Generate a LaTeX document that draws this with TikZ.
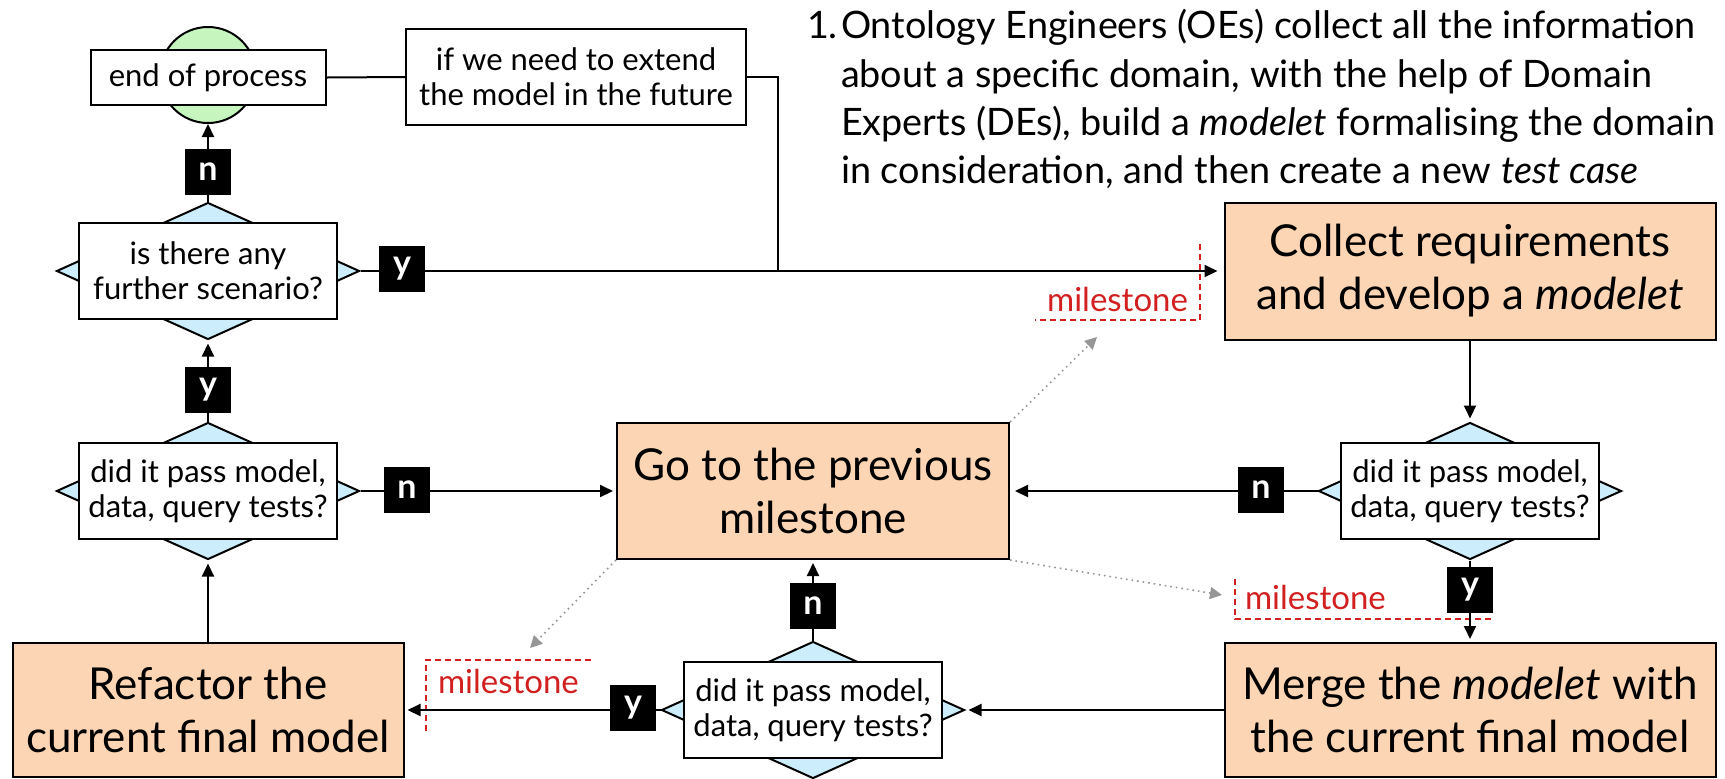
\documentclass[tikz,border=0pt]{standalone}
\usepackage{fontspec}
\setmainfont{Lato}
\usetikzlibrary{shapes.geometric,arrows.meta}
\definecolor{peach}{RGB}{252,213,180}
\definecolor{lblue}{RGB}{204,238,252}
\definecolor{lgreen}{RGB}{198,246,190}
\definecolor{msred}{RGB}{210,32,32}
\definecolor{dotgray}{RGB}{150,150,150}
\newcommand{\fBig}{\fontsize{22}{26.5}\selectfont}
\newcommand{\fSmall}{\fontsize{15.5}{17.5}\selectfont}
\newcommand{\fPara}{\fontsize{18.9}{24}\selectfont}
\newcommand{\fLab}{\fontsize{17}{17}\selectfont}
\newcommand{\fMs}{\fontsize{16.5}{18}\selectfont}
\begin{document}
\begin{tikzpicture}[x=0.5pt,y=-0.5pt,line width=1pt,
  bigbox/.style={draw, fill=peach, align=center, font=\fBig, inner sep=0pt},
  qbox/.style={draw, fill=white, align=center, font=\fSmall, minimum width=129pt, minimum height=48pt, inner sep=0pt},
  dia/.style={diamond, draw, fill=lblue, minimum width=151.5pt, minimum height=68.5pt, inner sep=0pt},
  lab/.style={fill=black, text=white, font=\fLab\bfseries, minimum size=23pt, inner sep=0pt},
  arr/.style={-{Triangle[length=6.5pt,width=6pt]}, shorten >=1.5pt},
  dotarr/.style={draw=dotgray, dotted, line width=0.8pt, -{Triangle[length=6pt,width=6pt]}},
  msline/.style={draw=msred, line width=0.8pt, dash pattern=on 3pt off 2pt},
  mstext/.style={text=msred, font=\fMs, inner sep=0pt},
  para/.style={anchor=base west, font=\fPara, inner sep=0pt},
  blank/.style={inner sep=0pt, outer sep=0pt}]
\useasboundingbox (0,0) rectangle (1725,778);
\clip (0,0) rectangle (1725,778);

% paragraph
\node[para] (pnum) at (806,38) {1.};
\node[para] (p1) at (840,38) {Ontology Engineers (OEs) collect all the information};
\node[para] (p2) at (840,87) {about a specific domain, with the help of Domain};
\node[para] (p3) at (840,135) {Experts (DEs), build a \textit{modelet} formalising the domain};
\node[para] (p4) at (840,183) {in consideration, and then create a new \textit{test case}};

% end of process
\node[ellipse, draw, fill=lgreen, minimum width=48pt, minimum height=48pt, inner sep=0pt] (endc) at (208,75) {};
\node[draw, fill=white, font=\fSmall, minimum width=117.5pt, minimum height=27.5pt, inner sep=0pt] (endbox) at (208,77.5) {end of process};
\node[draw, fill=white, align=center, font=\fSmall, minimum width=170pt, minimum height=48pt, inner sep=0pt] (ifbox) at (576,77) {if we need to extend\\the model in the future};

% decisions
\node[dia] (dtop) at (208,271) {};
\node[qbox] (qtop) at (208,271) {is there any\\further scenario?};
\node[dia] (dleft) at (208,491) {};
\node[qbox] (qleft) at (208,491) {did it pass model,\\data, query tests?};
\node[dia] (dright) at (1470,491) {};
\node[qbox] (qright) at (1470,491) {did it pass model,\\data, query tests?};
\node[dia] (dmid) at (813,710) {};
\node[qbox] (qmid) at (813,710) {did it pass model,\\data, query tests?};

% process boxes
\node[bigbox, minimum width=245.5pt, minimum height=68.5pt] (collect) at (1470,271) {Collect requirements\\and develop a \textit{modelet}};
\node[bigbox, minimum width=196pt, minimum height=68pt] (goto) at (813,491) {Go to the previous\\milestone};
\node[bigbox, minimum width=245.5pt, minimum height=67pt] (merge) at (1470,710) {Merge the \textit{modelet} with\\the current final model};
\node[bigbox, minimum width=195.5pt, minimum height=67pt] (refactor) at (208,710) {Refactor the\\current final model};

% milestones
\node[blank, minimum width=82.5pt, minimum height=38pt] (msb1) at (1117.5,282) {};
\node[mstext, anchor=base east] (ms1) at (1189,311) {milestone};
\node[blank, minimum width=129.5pt, minimum height=20pt] (msb2) at (1364.5,599) {};
\node[mstext, anchor=base west] (ms2) at (1244,609) {milestone};
\node[blank, minimum width=83pt, minimum height=35.5pt] (msb3) at (509,695.5) {};
\node[mstext, anchor=base west] (ms3) at (437,693) {milestone};
\draw[msline] (msb1.north east) -- (msb1.south east) -- (msb1.south west);
\draw[msline] (msb2.north west) -- (msb2.south west) -- (msb2.south east);
\draw[msline] (msb3.south west) -- (msb3.north west) -- (msb3.north east);

% connectors
\coordinate (j1) at (778,271);
\draw (endbox.east) -- (ifbox.west);
\draw (ifbox.east) -| (j1);
\draw[arr, shorten >=0pt] (dtop.north) -- (endc.south);
\draw[arr, shorten >=3pt] (dtop.east) -- (collect.west);
\draw[arr] (dleft.north) -- (dtop.south);
\draw[arr] (refactor.north) -- (dleft.south);
\draw[arr] (dleft.east) -- (goto.west);
\draw[arr, shorten >=2.5pt] (dright.west) -- (goto.east);
\draw[arr] (collect.south) -- (dright.north);
\draw[arr] (dright.south) -- (merge.north);
\draw[arr] (merge.west) -- (dmid.east);
\draw[arr] (dmid.north) -- (goto.south);
\draw[arr] (dmid.west) -- (refactor.east);

% dotted arrows
\coordinate (t1) at (1097,337);
\coordinate (t2) at (1222,595);
\coordinate (t3) at (530,648);
\draw[dotarr] (goto.north east) -- (t1);
\draw[dotarr] (goto.south east) -- (t2);
\draw[dotarr] (goto.south west) -- (t3);

% labels
\node[lab] (ln1) at (208,172) {n};
\node[lab] (ly1) at (402,269) {y};
\node[lab] (ly2) at (208,390) {y};
\node[lab] (ln2) at (407,490) {n};
\node[lab] (ln3) at (1261,490) {n};
\node[lab] (ly3) at (1470,590) {y};
\node[lab] (ln4) at (813,606) {n};
\node[lab] (ly4) at (633,708) {y};
\end{tikzpicture}
\end{document}
